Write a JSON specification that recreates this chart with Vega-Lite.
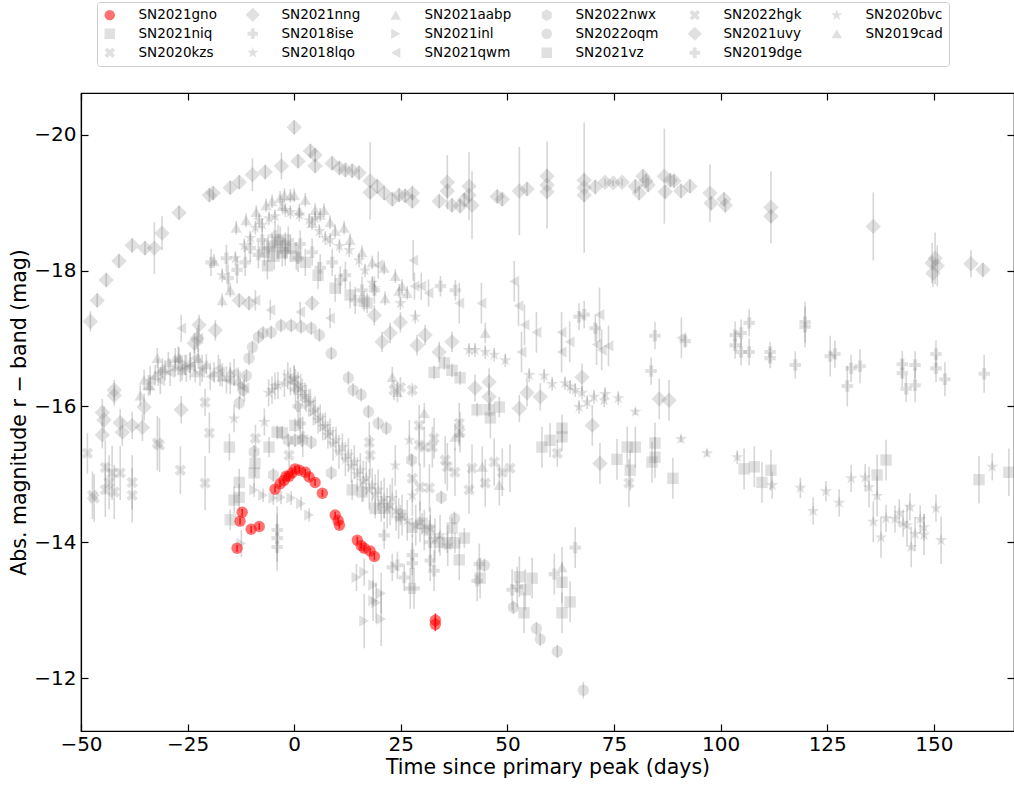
{
 "$schema": "https://vega.github.io/schema/vega-lite/v6.json",
 "width": 933, "height": 638,
 "autosize": {"type": "none"},
 "padding": {"left": 81, "top": 93, "right": 0, "bottom": 54},
 "background": "white",
 "config": {
  "font": "DejaVu Sans",
  "view": {"stroke": "black", "strokeWidth": 1.2},
  "axis": {"grid": false, "domainColor": "black", "domainWidth": 1.2, "tickColor": "black", "tickWidth": 1.2, "tickSize": -7, "labelFont": "DejaVu Sans", "labelFontSize": 20, "labelColor": "black", "labelFlush": false, "labelOverlap": false, "titleFont": "DejaVu Sans", "titleFontSize": 20.5, "titleFontWeight": "normal", "titleColor": "black"},
  "legend": {"labelFont": "DejaVu Sans"}
 },
 "datasets": {"pts": [
  {"sn":"SN2021uvy","t":-47.8,"m":-17.25,"e":0.15},{"sn":"SN2021uvy","t":-46.2,"m":-17.56,"e":0.1},{"sn":"SN2021uvy","t":-44.1,"m":-17.86,"e":0.1},{"sn":"SN2021uvy","t":-41.1,"m":-18.14,"e":0.1},{"sn":"SN2021uvy","t":-38.0,"m":-18.37,"e":0.1},{"sn":"SN2021uvy","t":-35.0,"m":-18.33,"e":0.1},{"sn":"SN2021uvy","t":-32.8,"m":-18.33,"e":0.38},{"sn":"SN2021uvy","t":-31.0,"m":-18.55,"e":0.25},{"sn":"SN2021uvy","t":-27.0,"m":-18.85,"e":0.1},{"sn":"SN2021uvy","t":-19.9,"m":-19.11,"e":0.1},{"sn":"SN2021uvy","t":-19.0,"m":-19.14,"e":0.1},{"sn":"SN2021uvy","t":-15.0,"m":-19.22,"e":0.1},{"sn":"SN2021uvy","t":-12.9,"m":-19.3,"e":0.1},{"sn":"SN2021uvy","t":-9.8,"m":-19.41,"e":0.24},{"sn":"SN2021uvy","t":-6.8,"m":-19.45,"e":0.1},{"sn":"SN2021uvy","t":-3.0,"m":-19.54,"e":0.2},{"sn":"SN2021uvy","t":0.0,"m":-20.11,"e":0.1},{"sn":"SN2021uvy","t":0.9,"m":-19.61,"e":0.1},{"sn":"SN2021uvy","t":3.8,"m":-19.76,"e":0.1},{"sn":"SN2021uvy","t":4.9,"m":-19.7,"e":0.1},{"sn":"SN2021uvy","t":4.9,"m":-19.54,"e":0.1},{"sn":"SN2021uvy","t":8.9,"m":-19.58,"e":0.1},{"sn":"SN2021uvy","t":10.6,"m":-19.51,"e":0.1},{"sn":"SN2021uvy","t":12.0,"m":-19.48,"e":0.1},{"sn":"SN2021uvy","t":13.6,"m":-19.47,"e":0.1},{"sn":"SN2021uvy","t":15.2,"m":-19.44,"e":0.1},{"sn":"SN2021uvy","t":17.8,"m":-19.32,"e":0.57},{"sn":"SN2021uvy","t":17.8,"m":-19.15,"e":0.1},{"sn":"SN2021uvy","t":19.5,"m":-19.24,"e":0.1},{"sn":"SN2021uvy","t":21.1,"m":-19.14,"e":0.1},{"sn":"SN2021uvy","t":23.0,"m":-19.05,"e":0.1},{"sn":"SN2021uvy","t":24.6,"m":-19.11,"e":0.1},{"sn":"SN2021uvy","t":26.0,"m":-19.1,"e":0.1},{"sn":"SN2021uvy","t":27.7,"m":-19.14,"e":0.1},{"sn":"SN2021uvy","t":27.7,"m":-19.02,"e":0.1},{"sn":"SN2021uvy","t":34.0,"m":-19.02,"e":0.1},{"sn":"SN2021uvy","t":35.9,"m":-19.3,"e":0.4},{"sn":"SN2021uvy","t":35.9,"m":-19.17,"e":0.1},{"sn":"SN2021uvy","t":37.0,"m":-18.96,"e":0.1},{"sn":"SN2021uvy","t":38.9,"m":-18.95,"e":0.1},{"sn":"SN2021uvy","t":39.9,"m":-19.04,"e":0.1},{"sn":"SN2021uvy","t":41.0,"m":-19.24,"e":0.5},{"sn":"SN2021uvy","t":41.0,"m":-19.11,"e":0.1},{"sn":"SN2021uvy","t":41.7,"m":-18.96,"e":0.5},{"sn":"SN2021uvy","t":47.6,"m":-19.09,"e":0.1},{"sn":"SN2021uvy","t":48.8,"m":-19.05,"e":0.1},{"sn":"SN2021uvy","t":52.8,"m":-19.17,"e":0.65},{"sn":"SN2021uvy","t":54.6,"m":-19.2,"e":0.1},{"sn":"SN2021uvy","t":59.3,"m":-19.39,"e":0.1},{"sn":"SN2021uvy","t":59.3,"m":-19.26,"e":0.64},{"sn":"SN2021uvy","t":59.3,"m":-19.16,"e":0.1},{"sn":"SN2021uvy","t":68.0,"m":-19.33,"e":0.1},{"sn":"SN2021uvy","t":68.0,"m":-19.22,"e":0.96},{"sn":"SN2021uvy","t":68.0,"m":-19.11,"e":0.1},{"sn":"SN2021uvy","t":70.6,"m":-19.23,"e":0.1},{"sn":"SN2021uvy","t":72.9,"m":-19.3,"e":0.05},{"sn":"SN2021uvy","t":74.8,"m":-19.29,"e":0.05},{"sn":"SN2021uvy","t":76.9,"m":-19.3,"e":0.05},{"sn":"SN2021uvy","t":80.0,"m":-19.24,"e":0.1},{"sn":"SN2021uvy","t":80.9,"m":-19.14,"e":0.1},{"sn":"SN2021uvy","t":81.8,"m":-19.39,"e":0.1},{"sn":"SN2021uvy","t":82.5,"m":-19.32,"e":0.1},{"sn":"SN2021uvy","t":83.0,"m":-19.26,"e":0.1},{"sn":"SN2021uvy","t":86.8,"m":-19.39,"e":0.7},{"sn":"SN2021uvy","t":87.0,"m":-19.16,"e":0.1},{"sn":"SN2021uvy","t":88.2,"m":-19.33,"e":0.1},{"sn":"SN2021uvy","t":89.1,"m":-19.32,"e":0.1},{"sn":"SN2021uvy","t":90.7,"m":-19.17,"e":0.1},{"sn":"SN2021uvy","t":92.8,"m":-19.24,"e":0.1},{"sn":"SN2021uvy","t":97.5,"m":-19.14,"e":0.42},{"sn":"SN2021uvy","t":97.8,"m":-18.99,"e":0.1},{"sn":"SN2021uvy","t":100.8,"m":-19.05,"e":0.1},{"sn":"SN2021uvy","t":101.1,"m":-18.96,"e":0.1},{"sn":"SN2021uvy","t":111.8,"m":-18.93,"e":0.53},{"sn":"SN2021uvy","t":111.8,"m":-18.8,"e":0.1},{"sn":"SN2021uvy","t":135.8,"m":-18.65,"e":0.5},{"sn":"SN2021uvy","t":150.3,"m":-18.18,"e":0.38},{"sn":"SN2021uvy","t":149.6,"m":-18.11,"e":0.3},{"sn":"SN2021uvy","t":150.8,"m":-18.07,"e":0.3},{"sn":"SN2021uvy","t":149.8,"m":-17.96,"e":0.2},{"sn":"SN2021uvy","t":158.7,"m":-18.1,"e":0.2},{"sn":"SN2021uvy","t":161.5,"m":-18.01,"e":0.1},

  {"sn":"SN2021nng","t":-45.0,"m":-15.58,"e":0.2},{"sn":"SN2021nng","t":-44.6,"m":-15.8,"e":0.2},{"sn":"SN2021nng","t":-45.0,"m":-15.91,"e":0.2},{"sn":"SN2021nng","t":-42.2,"m":-16.16,"e":0.15},{"sn":"SN2021nng","t":-42.2,"m":-16.24,"e":0.15},{"sn":"SN2021nng","t":-40.8,"m":-15.76,"e":0.2},{"sn":"SN2021nng","t":-40.3,"m":-15.62,"e":0.2},{"sn":"SN2021nng","t":-38.0,"m":-15.72,"e":0.2},{"sn":"SN2021nng","t":-35.6,"m":-15.69,"e":0.2},{"sn":"SN2021nng","t":-35.2,"m":-15.99,"e":0.2},{"sn":"SN2021nng","t":-26.5,"m":-15.95,"e":0.2},{"sn":"SN2021nng","t":-23.4,"m":-16.93,"e":0.15},{"sn":"SN2021nng","t":-22.8,"m":-17.0,"e":0.15},{"sn":"SN2021nng","t":-22.3,"m":-17.2,"e":0.15},{"sn":"SN2021nng","t":-18.5,"m":-17.12,"e":0.15},{"sn":"SN2021nng","t":-12.9,"m":-17.56,"e":0.1},{"sn":"SN2021nng","t":-10.6,"m":-17.52,"e":0.1},{"sn":"SN2021nng","t":4.2,"m":-17.52,"e":0.1},{"sn":"SN2021nng","t":18.8,"m":-17.34,"e":0.15},{"sn":"SN2021nng","t":20.6,"m":-16.95,"e":0.15},{"sn":"SN2021nng","t":22.5,"m":-17.08,"e":0.15},{"sn":"SN2021nng","t":24.9,"m":-17.24,"e":0.15},{"sn":"SN2021nng","t":28.8,"m":-16.9,"e":0.15},{"sn":"SN2021nng","t":30.7,"m":-17.05,"e":0.15},{"sn":"SN2021nng","t":34.0,"m":-16.8,"e":0.15},{"sn":"SN2021nng","t":37.0,"m":-16.95,"e":0.15},{"sn":"SN2021nng","t":42.4,"m":-16.27,"e":0.2},{"sn":"SN2021nng","t":45.7,"m":-16.36,"e":0.2},{"sn":"SN2021nng","t":45.7,"m":-16.14,"e":0.2},{"sn":"SN2021nng","t":52.8,"m":-15.97,"e":0.2},{"sn":"SN2021nng","t":54.6,"m":-16.2,"e":0.2},{"sn":"SN2021nng","t":57.7,"m":-16.14,"e":0.2},{"sn":"SN2021nng","t":67.5,"m":-16.43,"e":0.2},{"sn":"SN2021nng","t":69.9,"m":-15.72,"e":0.3},{"sn":"SN2021nng","t":71.7,"m":-15.16,"e":0.3},{"sn":"SN2021nng","t":85.6,"m":-16.11,"e":0.3},{"sn":"SN2021nng","t":87.9,"m":-16.09,"e":0.3},

  {"sn":"SN2021vz","t":-7.0,"m":-18.27,"e":0.2},{"sn":"SN2021vz","t":-5.2,"m":-18.36,"e":0.2},{"sn":"SN2021vz","t":-3.8,"m":-18.42,"e":0.25},{"sn":"SN2021vz","t":-0.9,"m":-18.33,"e":0.2},{"sn":"SN2021vz","t":0.5,"m":-18.21,"e":0.2},{"sn":"SN2021vz","t":2.6,"m":-18.12,"e":0.2},{"sn":"SN2021vz","t":5.6,"m":-17.93,"e":0.2},{"sn":"SN2021vz","t":9.6,"m":-17.74,"e":0.2},{"sn":"SN2021vz","t":13.1,"m":-17.64,"e":0.2},
  {"sn":"SN2021vz","t":-6.3,"m":-18.07,"e":0.2},{"sn":"SN2021vz","t":-4.7,"m":-18.21,"e":0.2},{"sn":"SN2021vz","t":-3.3,"m":-18.45,"e":0.2},{"sn":"SN2021vz","t":-2.8,"m":-18.26,"e":0.2},{"sn":"SN2021vz","t":-2.1,"m":-18.36,"e":0.2},{"sn":"SN2021vz","t":16.4,"m":-17.55,"e":0.15},{"sn":"SN2021vz","t":17.1,"m":-17.52,"e":0.15},{"sn":"SN2021vz","t":32.8,"m":-16.5,"e":0.1},{"sn":"SN2021vz","t":35.2,"m":-16.64,"e":0.1},{"sn":"SN2021vz","t":37.0,"m":-16.53,"e":0.1},{"sn":"SN2021vz","t":38.9,"m":-16.42,"e":0.1},{"sn":"SN2021vz","t":42.9,"m":-15.95,"e":0.1},{"sn":"SN2021vz","t":45.7,"m":-15.95,"e":0.1},{"sn":"SN2021vz","t":48.1,"m":-15.99,"e":0.15},{"sn":"SN2021vz","t":46.0,"m":-15.83,"e":0.3},{"sn":"SN2021vz","t":58.1,"m":-15.4,"e":0.3},{"sn":"SN2021vz","t":60.0,"m":-15.5,"e":0.25},{"sn":"SN2021vz","t":62.8,"m":-15.68,"e":0.2},{"sn":"SN2021vz","t":62.8,"m":-15.55,"e":0.2},{"sn":"SN2021vz","t":75.7,"m":-15.22,"e":0.3},{"sn":"SN2021vz","t":78.1,"m":-15.4,"e":0.3},{"sn":"SN2021vz","t":80.0,"m":-15.4,"e":0.3},{"sn":"SN2021vz","t":78.8,"m":-15.06,"e":0.3},{"sn":"SN2021vz","t":84.6,"m":-15.46,"e":0.3},{"sn":"SN2021vz","t":84.6,"m":-15.25,"e":0.3},{"sn":"SN2021vz","t":83.9,"m":-15.18,"e":0.3},{"sn":"SN2021vz","t":88.8,"m":-14.94,"e":0.3},{"sn":"SN2021vz","t":105.5,"m":-15.08,"e":0.3},{"sn":"SN2021vz","t":107.9,"m":-15.11,"e":0.3},{"sn":"SN2021vz","t":109.7,"m":-14.88,"e":0.3},{"sn":"SN2021vz","t":111.8,"m":-15.06,"e":0.3},{"sn":"SN2021vz","t":136.7,"m":-14.99,"e":0.3},{"sn":"SN2021vz","t":138.8,"m":-15.21,"e":0.3},{"sn":"SN2021vz","t":160.6,"m":-14.92,"e":0.35},{"sn":"SN2021vz","t":167.6,"m":-15.03,"e":0.35},

  {"sn":"SN2021niq","t":-15.2,"m":-15.4,"e":0.2},{"sn":"SN2021niq","t":-15.0,"m":-14.33,"e":0.15},{"sn":"SN2021niq","t":-14.1,"m":-14.62,"e":0.2},{"sn":"SN2021niq","t":-12.9,"m":-14.66,"e":0.2},{"sn":"SN2021niq","t":-12.9,"m":-14.88,"e":0.2},{"sn":"SN2021niq","t":-9.4,"m":-15.02,"e":0.2},{"sn":"SN2021niq","t":-9.2,"m":-15.16,"e":0.2},{"sn":"SN2021niq","t":-5.9,"m":-15.4,"e":0.15},{"sn":"SN2021niq","t":-4.0,"m":-15.62,"e":0.1},{"sn":"SN2021niq","t":-2.8,"m":-15.61,"e":0.1},{"sn":"SN2021niq","t":0.2,"m":-15.72,"e":0.1},{"sn":"SN2021niq","t":13.6,"m":-14.77,"e":0.15},{"sn":"SN2021niq","t":15.9,"m":-14.74,"e":0.15},{"sn":"SN2021niq","t":19.0,"m":-14.5,"e":0.15},{"sn":"SN2021niq","t":21.1,"m":-14.5,"e":0.15},{"sn":"SN2021niq","t":24.9,"m":-14.4,"e":0.15},{"sn":"SN2021niq","t":27.7,"m":-14.22,"e":0.15},{"sn":"SN2021niq","t":30.0,"m":-14.28,"e":0.15},{"sn":"SN2021niq","t":31.7,"m":-14.18,"e":0.15},{"sn":"SN2021niq","t":34.0,"m":-14.0,"e":0.15},{"sn":"SN2021niq","t":35.9,"m":-13.99,"e":0.15},{"sn":"SN2021niq","t":37.0,"m":-14.21,"e":0.15},{"sn":"SN2021niq","t":37.7,"m":-13.99,"e":0.15},{"sn":"SN2021niq","t":39.9,"m":-14.06,"e":0.15},{"sn":"SN2021niq","t":38.7,"m":-13.74,"e":0.3},{"sn":"SN2021niq","t":43.6,"m":-13.47,"e":0.3},{"sn":"SN2021niq","t":52.8,"m":-13.49,"e":0.3},{"sn":"SN2021niq","t":55.8,"m":-13.47,"e":0.3},{"sn":"SN2021niq","t":54.2,"m":-13.3,"e":0.3},{"sn":"SN2021niq","t":53.9,"m":-12.96,"e":0.3},{"sn":"SN2021niq","t":62.8,"m":-13.41,"e":0.3},{"sn":"SN2021niq","t":64.7,"m":-13.12,"e":0.3},{"sn":"SN2021niq","t":62.8,"m":-12.96,"e":0.3},

  {"sn":"SN2018ise","t":-15.5,"m":-17.89,"e":0.2},{"sn":"SN2018ise","t":-11.5,"m":-18.12,"e":0.2},{"sn":"SN2018ise","t":-8.4,"m":-18.23,"e":0.2},{"sn":"SN2018ise","t":-6.1,"m":-18.33,"e":0.2},{"sn":"SN2018ise","t":-2.1,"m":-18.27,"e":0.2},{"sn":"SN2018ise","t":0.9,"m":-18.18,"e":0.2},{"sn":"SN2018ise","t":6.1,"m":-18.04,"e":0.2},{"sn":"SN2018ise","t":10.8,"m":-17.86,"e":0.2},{"sn":"SN2018ise","t":14.3,"m":-17.56,"e":0.2},
  {"sn":"SN2018ise","t":-19.5,"m":-18.12,"e":0.2},{"sn":"SN2018ise","t":-15.9,"m":-18.18,"e":0.2},{"sn":"SN2018ise","t":-13.4,"m":-18.01,"e":0.2},{"sn":"SN2018ise","t":-10.3,"m":-18.33,"e":0.2},{"sn":"SN2018ise","t":-7.5,"m":-18.45,"e":0.2},{"sn":"SN2018ise","t":-4.5,"m":-18.51,"e":0.2},{"sn":"SN2018ise","t":-1.4,"m":-18.45,"e":0.2},{"sn":"SN2018ise","t":1.4,"m":-18.39,"e":0.2},{"sn":"SN2018ise","t":4.2,"m":-18.27,"e":0.2},{"sn":"SN2018ise","t":8.9,"m":-18.12,"e":0.2},{"sn":"SN2018ise","t":12.0,"m":-17.93,"e":0.2},{"sn":"SN2018ise","t":15.9,"m":-17.71,"e":0.2},{"sn":"SN2018ise","t":18.8,"m":-17.71,"e":0.2},{"sn":"SN2018ise","t":34.3,"m":-17.77,"e":0.15},{"sn":"SN2018ise","t":37.8,"m":-17.71,"e":0.15},{"sn":"SN2018ise","t":66.8,"m":-17.32,"e":0.2},{"sn":"SN2018ise","t":68.0,"m":-17.35,"e":0.2},{"sn":"SN2018ise","t":70.6,"m":-17.15,"e":0.2},{"sn":"SN2018ise","t":84.6,"m":-17.04,"e":0.2},{"sn":"SN2018ise","t":83.7,"m":-16.52,"e":0.2},{"sn":"SN2018ise","t":91.7,"m":-16.96,"e":0.1},{"sn":"SN2018ise","t":103.4,"m":-17.05,"e":0.2},{"sn":"SN2018ise","t":104.8,"m":-17.08,"e":0.2},{"sn":"SN2018ise","t":103.4,"m":-16.9,"e":0.2},{"sn":"SN2018ise","t":104.8,"m":-16.8,"e":0.2},{"sn":"SN2018ise","t":106.7,"m":-17.23,"e":0.2},{"sn":"SN2018ise","t":106.7,"m":-16.8,"e":0.2},{"sn":"SN2018ise","t":111.6,"m":-16.8,"e":0.15},{"sn":"SN2018ise","t":111.6,"m":-16.71,"e":0.15},{"sn":"SN2018ise","t":117.5,"m":-16.61,"e":0.2},{"sn":"SN2018ise","t":119.8,"m":-17.24,"e":0.3},{"sn":"SN2018ise","t":119.8,"m":-17.17,"e":0.3},{"sn":"SN2018ise","t":125.7,"m":-16.74,"e":0.3},{"sn":"SN2018ise","t":126.8,"m":-16.77,"e":0.2},{"sn":"SN2018ise","t":129.7,"m":-16.3,"e":0.3},{"sn":"SN2018ise","t":130.6,"m":-16.56,"e":0.2},{"sn":"SN2018ise","t":132.7,"m":-16.59,"e":0.25},{"sn":"SN2018ise","t":142.6,"m":-16.62,"e":0.2},{"sn":"SN2018ise","t":142.6,"m":-16.49,"e":0.2},{"sn":"SN2018ise","t":143.5,"m":-16.26,"e":0.2},{"sn":"SN2018ise","t":145.6,"m":-16.61,"e":0.2},{"sn":"SN2018ise","t":145.6,"m":-16.31,"e":0.25},{"sn":"SN2018ise","t":150.5,"m":-16.77,"e":0.2},{"sn":"SN2018ise","t":150.5,"m":-16.56,"e":0.2},{"sn":"SN2018ise","t":152.6,"m":-16.4,"e":0.25},{"sn":"SN2018ise","t":161.8,"m":-16.48,"e":0.28},

  {"sn":"SN2019dge","t":0.3,"m":-16.25,"e":0.3},{"sn":"SN2019dge","t":0.9,"m":-16.0,"e":0.3},{"sn":"SN2019dge","t":1.4,"m":-15.75,"e":0.3},{"sn":"SN2019dge","t":2.0,"m":-15.55,"e":0.3},
  {"sn":"SN2019dge","t":-4.0,"m":-14.18,"e":0.35},{"sn":"SN2019dge","t":-4.0,"m":-14.06,"e":0.35},{"sn":"SN2019dge","t":-4.0,"m":-13.93,"e":0.35},{"sn":"SN2019dge","t":21.1,"m":-14.1,"e":0.2},{"sn":"SN2019dge","t":23.0,"m":-13.63,"e":0.2},{"sn":"SN2019dge","t":24.2,"m":-13.66,"e":0.2},{"sn":"SN2019dge","t":25.8,"m":-13.48,"e":0.2},{"sn":"SN2019dge","t":27.7,"m":-13.81,"e":0.3},{"sn":"SN2019dge","t":27.7,"m":-13.69,"e":0.3},{"sn":"SN2019dge","t":27.2,"m":-13.32,"e":0.3},{"sn":"SN2019dge","t":28.1,"m":-13.32,"e":0.3},{"sn":"SN2019dge","t":31.9,"m":-14.0,"e":0.4},{"sn":"SN2019dge","t":31.9,"m":-13.73,"e":0.3},{"sn":"SN2019dge","t":32.8,"m":-13.58,"e":0.3},{"sn":"SN2019dge","t":42.9,"m":-13.43,"e":0.3},{"sn":"SN2019dge","t":43.4,"m":-13.68,"e":0.3},{"sn":"SN2019dge","t":51.1,"m":-13.3,"e":0.3},{"sn":"SN2019dge","t":52.3,"m":-13.34,"e":0.3},{"sn":"SN2019dge","t":61.0,"m":-13.53,"e":0.3},{"sn":"SN2019dge","t":65.9,"m":-13.92,"e":0.3},

  {"sn":"SN2020kzs","t":-48.5,"m":-15.31,"e":0.3},{"sn":"SN2020kzs","t":-47.3,"m":-14.69,"e":0.35},{"sn":"SN2020kzs","t":-46.9,"m":-14.65,"e":0.35},{"sn":"SN2020kzs","t":-44.3,"m":-15.1,"e":0.4},{"sn":"SN2020kzs","t":-42.7,"m":-15.02,"e":0.4},{"sn":"SN2020kzs","t":-43.4,"m":-14.88,"e":0.4},{"sn":"SN2020kzs","t":-44.3,"m":-14.77,"e":0.4},{"sn":"SN2020kzs","t":-42.2,"m":-14.74,"e":0.4},{"sn":"SN2020kzs","t":-40.8,"m":-15.02,"e":0.4},{"sn":"SN2020kzs","t":-38.0,"m":-14.88,"e":0.4},{"sn":"SN2020kzs","t":-38.0,"m":-14.69,"e":0.4},{"sn":"SN2020kzs","t":-32.1,"m":-15.46,"e":0.4},{"sn":"SN2020kzs","t":-31.6,"m":-15.43,"e":0.4},{"sn":"SN2020kzs","t":-26.7,"m":-15.06,"e":0.35},{"sn":"SN2020kzs","t":-20.9,"m":-16.06,"e":0.2},{"sn":"SN2020kzs","t":-19.9,"m":-15.61,"e":0.3},{"sn":"SN2020kzs","t":-20.9,"m":-14.87,"e":0.4},{"sn":"SN2020kzs","t":-9.1,"m":-15.53,"e":0.2},{"sn":"SN2020kzs","t":-1.2,"m":-15.28,"e":0.2},{"sn":"SN2020kzs","t":0.0,"m":-16.39,"e":0.2},

  {"sn":"SN2022hgk","t":17.6,"m":-15.47,"e":0.3},{"sn":"SN2022hgk","t":17.8,"m":-15.28,"e":0.3},{"sn":"SN2022hgk","t":23.4,"m":-16.24,"e":0.15},{"sn":"SN2022hgk","t":24.9,"m":-16.28,"e":0.15},{"sn":"SN2022hgk","t":27.7,"m":-16.24,"e":0.1},{"sn":"SN2022hgk","t":29.3,"m":-15.72,"e":0.3},{"sn":"SN2022hgk","t":29.3,"m":-15.43,"e":0.3},{"sn":"SN2022hgk","t":30.5,"m":-15.4,"e":0.3},{"sn":"SN2022hgk","t":32.4,"m":-15.4,"e":0.3},{"sn":"SN2022hgk","t":32.8,"m":-15.53,"e":0.3},{"sn":"SN2022hgk","t":38.7,"m":-15.75,"e":0.3},{"sn":"SN2022hgk","t":38.9,"m":-15.62,"e":0.3},{"sn":"SN2022hgk","t":35.4,"m":-15.21,"e":0.35},{"sn":"SN2022hgk","t":35.9,"m":-15.11,"e":0.35},{"sn":"SN2022hgk","t":37.7,"m":-15.03,"e":0.35},{"sn":"SN2022hgk","t":41.7,"m":-15.09,"e":0.35},{"sn":"SN2022hgk","t":46.9,"m":-15.18,"e":0.35},{"sn":"SN2022hgk","t":48.8,"m":-15.03,"e":0.35},{"sn":"SN2022hgk","t":50.6,"m":-15.09,"e":0.35},{"sn":"SN2022hgk","t":27.7,"m":-14.94,"e":0.35},{"sn":"SN2022hgk","t":29.5,"m":-14.81,"e":0.35},{"sn":"SN2022hgk","t":31.7,"m":-14.8,"e":0.35},{"sn":"SN2022hgk","t":41.0,"m":-14.77,"e":0.35},{"sn":"SN2022hgk","t":44.8,"m":-14.87,"e":0.35},{"sn":"SN2022hgk","t":61.7,"m":-15.31,"e":0.2},{"sn":"SN2022hgk","t":78.5,"m":-14.87,"e":0.35},

  {"sn":"SN2020bvc","t":-13.8,"m":-18.18,"e":0.1},{"sn":"SN2020bvc","t":-11.7,"m":-18.37,"e":0.1},{"sn":"SN2020bvc","t":-9.1,"m":-18.63,"e":0.1},{"sn":"SN2020bvc","t":-0.9,"m":-18.86,"e":0.1},{"sn":"SN2020bvc","t":8.4,"m":-18.45,"e":0.1},{"sn":"SN2020bvc","t":16.6,"m":-18.0,"e":0.1},
  {"sn":"SN2020bvc","t":-16.9,"m":-17.93,"e":0.1},{"sn":"SN2020bvc","t":-10.3,"m":-18.48,"e":0.1},{"sn":"SN2020bvc","t":-8.2,"m":-18.74,"e":0.1},{"sn":"SN2020bvc","t":-7.5,"m":-18.67,"e":0.1},{"sn":"SN2020bvc","t":-5.9,"m":-18.77,"e":0.1},{"sn":"SN2020bvc","t":-4.5,"m":-18.8,"e":0.1},{"sn":"SN2020bvc","t":-2.1,"m":-18.89,"e":0.1},{"sn":"SN2020bvc","t":1.2,"m":-18.82,"e":0.1},{"sn":"SN2020bvc","t":3.5,"m":-18.74,"e":0.1},{"sn":"SN2020bvc","t":4.9,"m":-18.77,"e":0.1},{"sn":"SN2020bvc","t":5.9,"m":-18.58,"e":0.1},{"sn":"SN2020bvc","t":7.3,"m":-18.48,"e":0.1},{"sn":"SN2020bvc","t":10.6,"m":-18.36,"e":0.1},{"sn":"SN2020bvc","t":12.9,"m":-18.3,"e":0.1},{"sn":"SN2020bvc","t":15.2,"m":-18.15,"e":0.1},{"sn":"SN2020bvc","t":18.3,"m":-17.82,"e":0.1},{"sn":"SN2020bvc","t":18.8,"m":-17.74,"e":0.1},{"sn":"SN2020bvc","t":24.9,"m":-17.52,"e":0.1},{"sn":"SN2020bvc","t":28.4,"m":-17.32,"e":0.1},{"sn":"SN2020bvc","t":41.0,"m":-16.83,"e":0.1},{"sn":"SN2020bvc","t":42.4,"m":-16.83,"e":0.1},{"sn":"SN2020bvc","t":44.8,"m":-16.8,"e":0.1},{"sn":"SN2020bvc","t":46.9,"m":-16.76,"e":0.1},{"sn":"SN2020bvc","t":49.5,"m":-16.68,"e":0.1},{"sn":"SN2020bvc","t":55.1,"m":-16.46,"e":0.1},{"sn":"SN2020bvc","t":58.6,"m":-16.45,"e":0.1},{"sn":"SN2020bvc","t":60.5,"m":-16.33,"e":0.1},{"sn":"SN2020bvc","t":63.5,"m":-16.34,"e":0.1},{"sn":"SN2020bvc","t":64.7,"m":-16.29,"e":0.1},{"sn":"SN2020bvc","t":65.9,"m":-16.24,"e":0.1},{"sn":"SN2020bvc","t":67.5,"m":-16.2,"e":0.1},{"sn":"SN2020bvc","t":66.8,"m":-15.99,"e":0.1},{"sn":"SN2020bvc","t":68.7,"m":-16.06,"e":0.1},{"sn":"SN2020bvc","t":70.3,"m":-16.14,"e":0.1},{"sn":"SN2020bvc","t":72.9,"m":-16.18,"e":0.1},{"sn":"SN2020bvc","t":72.7,"m":-16.09,"e":0.1},{"sn":"SN2020bvc","t":76.0,"m":-16.12,"e":0.1},{"sn":"SN2020bvc","t":80.0,"m":-15.92,"e":0.05},{"sn":"SN2020bvc","t":90.7,"m":-15.52,"e":0.05},{"sn":"SN2020bvc","t":96.8,"m":-15.31,"e":0.05},{"sn":"SN2020bvc","t":103.9,"m":-15.25,"e":0.1},{"sn":"SN2020bvc","t":112.1,"m":-14.84,"e":0.2},{"sn":"SN2020bvc","t":118.7,"m":-14.8,"e":0.15},{"sn":"SN2020bvc","t":121.7,"m":-14.46,"e":0.2},{"sn":"SN2020bvc","t":124.7,"m":-14.75,"e":0.15},{"sn":"SN2020bvc","t":127.8,"m":-14.58,"e":0.2},{"sn":"SN2020bvc","t":130.6,"m":-14.94,"e":0.2},{"sn":"SN2020bvc","t":133.9,"m":-14.95,"e":0.2},{"sn":"SN2020bvc","t":134.8,"m":-14.81,"e":0.3},{"sn":"SN2020bvc","t":136.7,"m":-14.68,"e":0.3},{"sn":"SN2020bvc","t":135.8,"m":-14.3,"e":0.3},{"sn":"SN2020bvc","t":137.6,"m":-14.07,"e":0.3},{"sn":"SN2020bvc","t":138.8,"m":-14.35,"e":0.2},{"sn":"SN2020bvc","t":140.9,"m":-14.34,"e":0.2},{"sn":"SN2020bvc","t":141.9,"m":-14.43,"e":0.2},{"sn":"SN2020bvc","t":142.8,"m":-14.28,"e":0.2},{"sn":"SN2020bvc","t":143.7,"m":-14.25,"e":0.3},{"sn":"SN2020bvc","t":144.4,"m":-14.52,"e":0.2},{"sn":"SN2020bvc","t":144.7,"m":-13.93,"e":0.3},{"sn":"SN2020bvc","t":145.6,"m":-14.12,"e":0.25},{"sn":"SN2020bvc","t":146.8,"m":-14.34,"e":0.2},{"sn":"SN2020bvc","t":147.7,"m":-14.22,"e":0.2},{"sn":"SN2020bvc","t":147.7,"m":-14.11,"e":0.3},{"sn":"SN2020bvc","t":150.5,"m":-14.5,"e":0.2},{"sn":"SN2020bvc","t":151.7,"m":-14.03,"e":0.35},{"sn":"SN2020bvc","t":163.7,"m":-15.11,"e":0.2},

  {"sn":"SN2018lqo","t":-6.0,"m":-16.2,"e":0.2},{"sn":"SN2018lqo","t":-4.5,"m":-16.3,"e":0.2},{"sn":"SN2018lqo","t":-1.5,"m":-16.45,"e":0.2},{"sn":"SN2018lqo","t":1.5,"m":-16.28,"e":0.2},{"sn":"SN2018lqo","t":2.5,"m":-16.15,"e":0.2},{"sn":"SN2018lqo","t":3.4,"m":-16.05,"e":0.2},{"sn":"SN2018lqo","t":4.5,"m":-15.92,"e":0.2},{"sn":"SN2018lqo","t":5.6,"m":-15.8,"e":0.2},{"sn":"SN2018lqo","t":6.7,"m":-15.7,"e":0.2},{"sn":"SN2018lqo","t":7.9,"m":-15.58,"e":0.2},{"sn":"SN2018lqo","t":9.1,"m":-15.45,"e":0.25},{"sn":"SN2018lqo","t":10.5,"m":-15.33,"e":0.25},{"sn":"SN2018lqo","t":12.0,"m":-15.22,"e":0.25},{"sn":"SN2018lqo","t":13.4,"m":-15.12,"e":0.25},{"sn":"SN2018lqo","t":14.8,"m":-15.0,"e":0.25},{"sn":"SN2018lqo","t":16.2,"m":-14.9,"e":0.3},{"sn":"SN2018lqo","t":17.6,"m":-14.78,"e":0.3},{"sn":"SN2018lqo","t":19.0,"m":-14.7,"e":0.3},{"sn":"SN2018lqo","t":20.4,"m":-14.6,"e":0.3},{"sn":"SN2018lqo","t":21.8,"m":-14.5,"e":0.3},{"sn":"SN2018lqo","t":24.5,"m":-14.35,"e":0.3},{"sn":"SN2018lqo","t":26.5,"m":-14.32,"e":0.3},{"sn":"SN2018lqo","t":28.5,"m":-14.25,"e":0.3},{"sn":"SN2018lqo","t":30.5,"m":-14.18,"e":0.3},{"sn":"SN2018lqo","t":33.0,"m":-14.05,"e":0.3},{"sn":"SN2018lqo","t":36.0,"m":-13.95,"e":0.3},
  {"sn":"SN2018lqo","t":-14.1,"m":-15.82,"e":0.2},{"sn":"SN2018lqo","t":-7.0,"m":-15.77,"e":0.2},{"sn":"SN2018lqo","t":-5.2,"m":-16.24,"e":0.2},{"sn":"SN2018lqo","t":-3.8,"m":-16.31,"e":0.2},{"sn":"SN2018lqo","t":-2.3,"m":-16.34,"e":0.2},{"sn":"SN2018lqo","t":-0.9,"m":-16.37,"e":0.2},{"sn":"SN2018lqo","t":0.0,"m":-16.41,"e":0.2},{"sn":"SN2018lqo","t":0.9,"m":-16.31,"e":0.2},{"sn":"SN2018lqo","t":1.9,"m":-16.21,"e":0.2},{"sn":"SN2018lqo","t":2.8,"m":-16.12,"e":0.2},{"sn":"SN2018lqo","t":3.8,"m":-16.06,"e":0.2},{"sn":"SN2018lqo","t":4.9,"m":-15.95,"e":0.2},{"sn":"SN2018lqo","t":6.1,"m":-15.83,"e":0.2},{"sn":"SN2018lqo","t":7.3,"m":-15.71,"e":0.2},{"sn":"SN2018lqo","t":8.4,"m":-15.62,"e":0.2},{"sn":"SN2018lqo","t":9.8,"m":-15.5,"e":0.2},{"sn":"SN2018lqo","t":11.3,"m":-15.4,"e":0.2},{"sn":"SN2018lqo","t":12.7,"m":-15.28,"e":0.25},{"sn":"SN2018lqo","t":14.1,"m":-15.18,"e":0.25},{"sn":"SN2018lqo","t":15.5,"m":-15.06,"e":0.25},{"sn":"SN2018lqo","t":16.9,"m":-14.94,"e":0.25},{"sn":"SN2018lqo","t":18.3,"m":-14.84,"e":0.25},{"sn":"SN2018lqo","t":19.7,"m":-14.77,"e":0.3},{"sn":"SN2018lqo","t":21.1,"m":-14.65,"e":0.3},{"sn":"SN2018lqo","t":22.5,"m":-14.55,"e":0.3},{"sn":"SN2018lqo","t":23.9,"m":-14.47,"e":0.3},{"sn":"SN2018lqo","t":25.3,"m":-14.4,"e":0.3},{"sn":"SN2018lqo","t":27.0,"m":-15.5,"e":0.3},{"sn":"SN2018lqo","t":23.7,"m":-15.13,"e":0.3},{"sn":"SN2018lqo","t":27.7,"m":-14.69,"e":0.3},{"sn":"SN2018lqo","t":23.0,"m":-14.65,"e":0.3},{"sn":"SN2018lqo","t":29.5,"m":-14.3,"e":0.3},{"sn":"SN2018lqo","t":31.9,"m":-14.21,"e":0.3},{"sn":"SN2018lqo","t":34.2,"m":-14.1,"e":0.3},

  {"sn":"SN2021aabp","t":-13.6,"m":-18.63,"e":0.1},{"sn":"SN2021aabp","t":-11.3,"m":-18.74,"e":0.1},{"sn":"SN2021aabp","t":-8.9,"m":-18.86,"e":0.1},{"sn":"SN2021aabp","t":-6.6,"m":-18.96,"e":0.1},{"sn":"SN2021aabp","t":-5.2,"m":-19.02,"e":0.1},{"sn":"SN2021aabp","t":2.6,"m":-19.04,"e":0.1},{"sn":"SN2021aabp","t":6.1,"m":-18.82,"e":0.1},{"sn":"SN2021aabp","t":8.4,"m":-18.71,"e":0.1},{"sn":"SN2021aabp","t":13.1,"m":-18.45,"e":0.1},{"sn":"SN2021aabp","t":15.9,"m":-18.27,"e":0.1},{"sn":"SN2021aabp","t":18.3,"m":-18.12,"e":0.1},{"sn":"SN2021aabp","t":-15.0,"m":-17.71,"e":0.1},{"sn":"SN2021aabp","t":-16.9,"m":-17.56,"e":0.1},
  {"sn":"SN2021aabp","t":-35.2,"m":-16.39,"e":0.15},{"sn":"SN2021aabp","t":-32.1,"m":-16.71,"e":0.15},{"sn":"SN2021aabp","t":-27.0,"m":-16.72,"e":0.15},{"sn":"SN2021aabp","t":-18.8,"m":-18.14,"e":0.1},{"sn":"SN2021aabp","t":-3.3,"m":-19.07,"e":0.1},{"sn":"SN2021aabp","t":-2.3,"m":-19.11,"e":0.1},{"sn":"SN2021aabp","t":-0.9,"m":-19.1,"e":0.1},{"sn":"SN2021aabp","t":0.0,"m":-19.11,"e":0.1},{"sn":"SN2021aabp","t":-2.8,"m":-18.95,"e":0.1},{"sn":"SN2021aabp","t":1.2,"m":-18.88,"e":0.1},{"sn":"SN2021aabp","t":4.9,"m":-18.89,"e":0.1},{"sn":"SN2021aabp","t":4.2,"m":-18.7,"e":0.1},{"sn":"SN2021aabp","t":7.0,"m":-18.89,"e":0.1},{"sn":"SN2021aabp","t":9.6,"m":-18.58,"e":0.1},{"sn":"SN2021aabp","t":11.7,"m":-18.63,"e":0.1},{"sn":"SN2021aabp","t":21.1,"m":-18.04,"e":0.1},{"sn":"SN2021aabp","t":23.7,"m":-17.92,"e":0.1},{"sn":"SN2021aabp","t":25.3,"m":-17.77,"e":0.1},{"sn":"SN2021aabp","t":26.5,"m":-17.67,"e":0.1},{"sn":"SN2021aabp","t":21.3,"m":-17.59,"e":0.1},{"sn":"SN2021aabp","t":24.6,"m":-17.7,"e":0.1},

  {"sn":"SN2019cad","t":-36.1,"m":-16.16,"e":0.15},{"sn":"SN2019cad","t":-34.2,"m":-16.31,"e":0.15},{"sn":"SN2019cad","t":-32.6,"m":-16.46,"e":0.15},{"sn":"SN2019cad","t":-30.9,"m":-16.56,"e":0.15},{"sn":"SN2019cad","t":-29.5,"m":-16.65,"e":0.15},{"sn":"SN2019cad","t":-27.9,"m":-16.59,"e":0.15},{"sn":"SN2019cad","t":-26.3,"m":-16.53,"e":0.15},{"sn":"SN2019cad","t":-24.4,"m":-16.65,"e":0.15},{"sn":"SN2019cad","t":-22.5,"m":-16.71,"e":0.15},{"sn":"SN2019cad","t":-20.6,"m":-16.62,"e":0.15},{"sn":"SN2019cad","t":-18.8,"m":-16.5,"e":0.15},{"sn":"SN2019cad","t":-16.9,"m":-16.44,"e":0.15},{"sn":"SN2019cad","t":-15.0,"m":-16.5,"e":0.15},{"sn":"SN2019cad","t":-13.1,"m":-16.39,"e":0.15},
  {"sn":"SN2019cad","t":-33.8,"m":-16.31,"e":0.15},{"sn":"SN2019cad","t":-30.3,"m":-16.53,"e":0.15},{"sn":"SN2019cad","t":-27.9,"m":-16.71,"e":0.15},{"sn":"SN2019cad","t":-25.6,"m":-16.61,"e":0.15},{"sn":"SN2019cad","t":-23.2,"m":-16.5,"e":0.15},{"sn":"SN2019cad","t":23.0,"m":-16.43,"e":0.15},{"sn":"SN2019cad","t":24.2,"m":-16.21,"e":0.15},{"sn":"SN2019cad","t":30.5,"m":-15.9,"e":0.15},{"sn":"SN2019cad","t":37.7,"m":-15.55,"e":0.2},{"sn":"SN2019cad","t":38.7,"m":-15.61,"e":0.2},{"sn":"SN2019cad","t":44.8,"m":-17.08,"e":0.15},{"sn":"SN2019cad","t":44.1,"m":-15.11,"e":0.3},{"sn":"SN2019cad","t":48.1,"m":-14.84,"e":0.3},{"sn":"SN2019cad","t":62.8,"m":-13.63,"e":0.3},

  {"sn":"SN2021qwm","t":-33.8,"m":-16.39,"e":0.2},{"sn":"SN2021qwm","t":-31.9,"m":-16.5,"e":0.2},{"sn":"SN2021qwm","t":-27.2,"m":-16.68,"e":0.2},{"sn":"SN2021qwm","t":-25.3,"m":-16.56,"e":0.2},{"sn":"SN2021qwm","t":-23.4,"m":-16.71,"e":0.2},{"sn":"SN2021qwm","t":-21.6,"m":-16.56,"e":0.2},{"sn":"SN2021qwm","t":-17.8,"m":-16.56,"e":0.2},{"sn":"SN2021qwm","t":-15.9,"m":-16.39,"e":0.2},{"sn":"SN2021qwm","t":-14.1,"m":-16.5,"e":0.2},{"sn":"SN2021qwm","t":-11.7,"m":-16.27,"e":0.2},{"sn":"SN2021qwm","t":-9.1,"m":-17.56,"e":0.15},{"sn":"SN2021qwm","t":-5.6,"m":-17.42,"e":0.15},{"sn":"SN2021qwm","t":1.4,"m":-17.39,"e":0.15},{"sn":"SN2021qwm","t":8.4,"m":-17.3,"e":0.15},
  {"sn":"SN2021qwm","t":-31.4,"m":-16.38,"e":0.2},{"sn":"SN2021qwm","t":-29.1,"m":-16.5,"e":0.2},{"sn":"SN2021qwm","t":-26.7,"m":-16.56,"e":0.2},{"sn":"SN2021qwm","t":-26.5,"m":-17.15,"e":0.2},{"sn":"SN2021qwm","t":-24.4,"m":-16.59,"e":0.2},{"sn":"SN2021qwm","t":-22.5,"m":-17.0,"e":0.2},{"sn":"SN2021qwm","t":-22.1,"m":-16.5,"e":0.2},{"sn":"SN2021qwm","t":-19.7,"m":-16.44,"e":0.2},{"sn":"SN2021qwm","t":-17.4,"m":-16.5,"e":0.2},{"sn":"SN2021qwm","t":-15.0,"m":-16.38,"e":0.2},{"sn":"SN2021qwm","t":-12.7,"m":-16.31,"e":0.2},{"sn":"SN2021qwm","t":19.7,"m":-18.08,"e":0.2},{"sn":"SN2021qwm","t":27.9,"m":-18.15,"e":0.3},{"sn":"SN2021qwm","t":28.2,"m":-17.77,"e":0.2},{"sn":"SN2021qwm","t":29.8,"m":-17.77,"e":0.2},{"sn":"SN2021qwm","t":31.5,"m":-17.67,"e":0.2},{"sn":"SN2021qwm","t":38.7,"m":-17.52,"e":0.3},{"sn":"SN2021qwm","t":43.9,"m":-17.52,"e":0.3},{"sn":"SN2021qwm","t":51.6,"m":-17.84,"e":0.3},{"sn":"SN2021qwm","t":52.6,"m":-17.48,"e":0.3},{"sn":"SN2021qwm","t":54.0,"m":-17.2,"e":0.3},{"sn":"SN2021qwm","t":56.8,"m":-17.09,"e":0.3},{"sn":"SN2021qwm","t":53.3,"m":-16.8,"e":0.3},{"sn":"SN2021qwm","t":62.7,"m":-17.09,"e":0.3},{"sn":"SN2021qwm","t":64.6,"m":-16.95,"e":0.3},{"sn":"SN2021qwm","t":62.7,"m":-16.8,"e":0.3},{"sn":"SN2021qwm","t":71.6,"m":-17.35,"e":0.4},{"sn":"SN2021qwm","t":70.9,"m":-16.91,"e":0.3},{"sn":"SN2021qwm","t":72.1,"m":-16.83,"e":0.3},{"sn":"SN2021qwm","t":73.7,"m":-16.89,"e":0.3},{"sn":"SN2021qwm","t":90.8,"m":-17.01,"e":0.3},

  {"sn":"SN2021inl","t":-12.4,"m":-13.98,"e":0.2},{"sn":"SN2021inl","t":-9.4,"m":-14.77,"e":0.1},{"sn":"SN2021inl","t":-7.3,"m":-14.69,"e":0.1},{"sn":"SN2021inl","t":-4.9,"m":-14.65,"e":0.1},{"sn":"SN2021inl","t":-3.1,"m":-14.66,"e":0.1},{"sn":"SN2021inl","t":-0.7,"m":-14.65,"e":0.1},{"sn":"SN2021inl","t":1.6,"m":-14.57,"e":0.1},{"sn":"SN2021inl","t":3.5,"m":-14.4,"e":0.1},{"sn":"SN2021inl","t":14.6,"m":-13.48,"e":0.2},{"sn":"SN2021inl","t":16.4,"m":-13.56,"e":0.2},{"sn":"SN2021inl","t":18.5,"m":-13.37,"e":0.3},{"sn":"SN2021inl","t":20.4,"m":-13.25,"e":0.3},{"sn":"SN2021inl","t":18.5,"m":-13.14,"e":0.3},{"sn":"SN2021inl","t":19.2,"m":-13.11,"e":0.3},{"sn":"SN2021inl","t":16.4,"m":-12.84,"e":0.4},{"sn":"SN2021inl","t":20.4,"m":-12.87,"e":0.4},

  {"sn":"SN2022oqm","t":-12.9,"m":-16.05,"e":0.1},{"sn":"SN2022oqm","t":-12.0,"m":-16.24,"e":0.1},{"sn":"SN2022oqm","t":-11.2,"m":-16.45,"e":0.1},{"sn":"SN2022oqm","t":-10.6,"m":-16.71,"e":0.1},{"sn":"SN2022oqm","t":-9.8,"m":-16.87,"e":0.1},{"sn":"SN2022oqm","t":-8.4,"m":-17.02,"e":0.1},{"sn":"SN2022oqm","t":-7.3,"m":-17.08,"e":0.1},{"sn":"SN2022oqm","t":-5.4,"m":-17.09,"e":0.1},{"sn":"SN2022oqm","t":-3.1,"m":-17.19,"e":0.1},{"sn":"SN2022oqm","t":-0.7,"m":-17.19,"e":0.1},{"sn":"SN2022oqm","t":1.6,"m":-17.17,"e":0.1},{"sn":"SN2022oqm","t":4.0,"m":-17.15,"e":0.1},{"sn":"SN2022oqm","t":5.9,"m":-17.05,"e":0.1},{"sn":"SN2022oqm","t":8.7,"m":-16.78,"e":0.1},{"sn":"SN2022oqm","t":12.7,"m":-16.42,"e":0.1},{"sn":"SN2022oqm","t":13.8,"m":-16.24,"e":0.1},{"sn":"SN2022oqm","t":15.7,"m":-16.17,"e":0.1},{"sn":"SN2022oqm","t":17.4,"m":-15.92,"e":0.1},{"sn":"SN2022oqm","t":19.7,"m":-15.75,"e":0.1},{"sn":"SN2022oqm","t":21.6,"m":-15.68,"e":0.1},{"sn":"SN2022oqm","t":37.6,"m":-14.35,"e":0.1},{"sn":"SN2022oqm","t":44.6,"m":-13.66,"e":0.1},{"sn":"SN2022oqm","t":51.4,"m":-13.04,"e":0.1},{"sn":"SN2022oqm","t":56.8,"m":-12.73,"e":0.1},{"sn":"SN2022oqm","t":57.7,"m":-12.57,"e":0.1},{"sn":"SN2022oqm","t":61.7,"m":-12.39,"e":0.1},{"sn":"SN2022oqm","t":67.8,"m":-11.82,"e":0.12},

  {"sn":"SN2022nwx","t":-9.4,"m":-15.33,"e":0.1},{"sn":"SN2022nwx","t":-4.9,"m":-14.99,"e":0.1},{"sn":"SN2022nwx","t":-1.4,"m":-15.5,"e":0.1},{"sn":"SN2022nwx","t":0.2,"m":-15.5,"e":0.1},{"sn":"SN2022nwx","t":1.9,"m":-15.5,"e":0.1},{"sn":"SN2022nwx","t":4.0,"m":-15.47,"e":0.1},{"sn":"SN2022nwx","t":8.7,"m":-15.02,"e":0.1},{"sn":"SN2022nwx","t":27.5,"m":-15.21,"e":0.1},{"sn":"SN2022nwx","t":34.5,"m":-14.66,"e":0.1},

  {"sn":"SN2021gno","t":-13.4,"m":-13.91,"e":0.05},{"sn":"SN2021gno","t":-12.7,"m":-14.31,"e":0.05},{"sn":"SN2021gno","t":-12.2,"m":-14.44,"e":0.05},{"sn":"SN2021gno","t":-10.1,"m":-14.19,"e":0.05},{"sn":"SN2021gno","t":-8.2,"m":-14.23,"e":0.05},{"sn":"SN2021gno","t":-4.5,"m":-14.78,"e":0.05},{"sn":"SN2021gno","t":-3.3,"m":-14.86,"e":0.05},{"sn":"SN2021gno","t":-2.4,"m":-14.91,"e":0.05},{"sn":"SN2021gno","t":-1.9,"m":-14.97,"e":0.05},{"sn":"SN2021gno","t":-1.2,"m":-14.97,"e":0.05},{"sn":"SN2021gno","t":-0.5,"m":-15.02,"e":0.05},{"sn":"SN2021gno","t":0.2,"m":-15.08,"e":0.05},{"sn":"SN2021gno","t":1.2,"m":-15.06,"e":0.05},{"sn":"SN2021gno","t":2.6,"m":-15.03,"e":0.05},{"sn":"SN2021gno","t":3.5,"m":-14.96,"e":0.05},{"sn":"SN2021gno","t":4.9,"m":-14.88,"e":0.05},{"sn":"SN2021gno","t":6.6,"m":-14.72,"e":0.05},{"sn":"SN2021gno","t":9.6,"m":-14.4,"e":0.05},{"sn":"SN2021gno","t":10.3,"m":-14.32,"e":0.05},{"sn":"SN2021gno","t":10.6,"m":-14.25,"e":0.05},{"sn":"SN2021gno","t":14.8,"m":-14.03,"e":0.05},{"sn":"SN2021gno","t":15.7,"m":-13.95,"e":0.05},{"sn":"SN2021gno","t":16.4,"m":-13.91,"e":0.05},{"sn":"SN2021gno","t":17.8,"m":-13.87,"e":0.05},{"sn":"SN2021gno","t":18.8,"m":-13.79,"e":0.05},{"sn":"SN2021gno","t":33.1,"m":-12.85,"e":0.1},{"sn":"SN2021gno","t":33.1,"m":-12.79,"e":0.1}
 ]},
 "data": {"name": "pts"},
 "layer": [
  {
   "mark": {"type": "errorbar", "thickness": 1.6},
   "encoding": {
    "x": {"field": "t", "type": "quantitative", "scale": {"domain": [-50, 168.8], "nice": false, "zero": false}, "axis": {"orient": "top", "labels": false, "title": null, "domain": false, "values": [-50, -25, 0, 25, 50, 75, 100, 125, 150]}},
    "y": {"field": "m", "type": "quantitative", "scale": {"domain": [-20.614, -11.22], "reverse": true, "nice": false, "zero": false}, "axis": {"orient": "right", "labels": false, "title": null, "domain": false, "values": [-20, -18, -16, -14, -12]}},
    "yError": {"field": "e"},
    "color": {"condition": {"test": "datum.sn === 'SN2021gno'", "value": "rgba(255,0,0,0.8)"}, "value": "rgba(128,128,128,0.32)"}
   }
  },
  {
   "mark": {"type": "point", "filled": true, "size": 130, "strokeWidth": 1},
   "encoding": {
    "x": {"field": "t", "type": "quantitative", "axis": {"orient": "bottom", "title": "Time since primary peak (days)", "values": [-50, -25, 0, 25, 50, 75, 100, 125, 150], "labelPadding": 10, "titleY": 26}},
    "y": {"field": "m", "type": "quantitative", "axis": {"orient": "left", "title": "Abs. magnitude r − band (mag)", "values": [-20, -18, -16, -14, -12], "labelPadding": 12, "titleX": -52}},
    "color": {"field": "sn", "type": "nominal",
     "scale": {"domain": ["SN2021gno","SN2021niq","SN2020kzs","SN2021nng","SN2018ise","SN2018lqo","SN2021aabp","SN2021inl","SN2021qwm","SN2022nwx","SN2022oqm","SN2021vz","SN2022hgk","SN2021uvy","SN2019dge","SN2020bvc","SN2019cad"],
      "range": ["rgba(255,0,0,0.8)","rgba(128,128,128,0.35)","rgba(128,128,128,0.35)","rgba(128,128,128,0.35)","rgba(128,128,128,0.35)","rgba(128,128,128,0.35)","rgba(128,128,128,0.35)","rgba(128,128,128,0.35)","rgba(128,128,128,0.35)","rgba(128,128,128,0.35)","rgba(128,128,128,0.35)","rgba(128,128,128,0.35)","rgba(128,128,128,0.35)","rgba(128,128,128,0.35)","rgba(128,128,128,0.35)","rgba(128,128,128,0.35)","rgba(128,128,128,0.35)"]},
     "legend": {"title": null, "orient": "none", "legendX": 16, "legendY": -91, "columns": 6, "labelFont": "DejaVu Sans", "labelFontSize": 13.5, "labelColor": "black", "symbolSize": 110, "symbolStrokeWidth": 1, "strokeColor": "#cccccc", "fillColor": "white", "padding": 6, "cornerRadius": 3, "rowPadding": 4, "columnPadding": 28, "labelOffset": 22}},
    "shape": {"field": "sn", "type": "nominal",
     "scale": {"domain": ["SN2021gno","SN2021niq","SN2020kzs","SN2021nng","SN2018ise","SN2018lqo","SN2021aabp","SN2021inl","SN2021qwm","SN2022nwx","SN2022oqm","SN2021vz","SN2022hgk","SN2021uvy","SN2019dge","SN2020bvc","SN2019cad"],
      "range": ["circle","square","M-0.5,-1L0,-0.5L0.5,-1L1,-0.5L0.5,0L1,0.5L0.5,1L0,0.5L-0.5,1L-1,0.5L-0.5,0L-1,-0.5Z","M0,-1.35L1.35,0L0,1.35L-1.35,0Z","M-0.36,-1H0.36V-0.36H1V0.36H0.36V1H-0.36V0.36H-1V-0.36H-0.36Z","M0,-1.15L0.26,-0.36L1.09,-0.36L0.42,0.14L0.68,0.93L0,0.44L-0.68,0.93L-0.42,0.14L-1.09,-0.36L-0.26,-0.36Z","triangle-up","triangle-right","triangle-left","M0,-1.1L0.95,-0.55L0.95,0.55L0,1.1L-0.95,0.55L-0.95,-0.55Z","circle","square","M-0.5,-1L0,-0.5L0.5,-1L1,-0.5L0.5,0L1,0.5L0.5,1L0,0.5L-0.5,1L-1,0.5L-0.5,0L-1,-0.5Z","M0,-1.35L1.35,0L0,1.35L-1.35,0Z","M-0.36,-1H0.36V-0.36H1V0.36H0.36V1H-0.36V0.36H-1V-0.36H-0.36Z","M0,-1.15L0.26,-0.36L1.09,-0.36L0.42,0.14L0.68,0.93L0,0.44L-0.68,0.93L-0.42,0.14L-1.09,-0.36L-0.26,-0.36Z","triangle-up"]},
     "legend": {"title": null, "orient": "none", "legendX": 16, "legendY": -91, "columns": 6, "labelFont": "DejaVu Sans", "labelFontSize": 13.5, "labelColor": "black", "symbolSize": 110, "symbolStrokeWidth": 1, "strokeColor": "#cccccc", "fillColor": "white", "padding": 6, "cornerRadius": 3, "rowPadding": 4, "columnPadding": 28, "labelOffset": 22}}
   }
  }
 ],
 "resolve": {"axis": {"x": "independent", "y": "independent"}}
}
